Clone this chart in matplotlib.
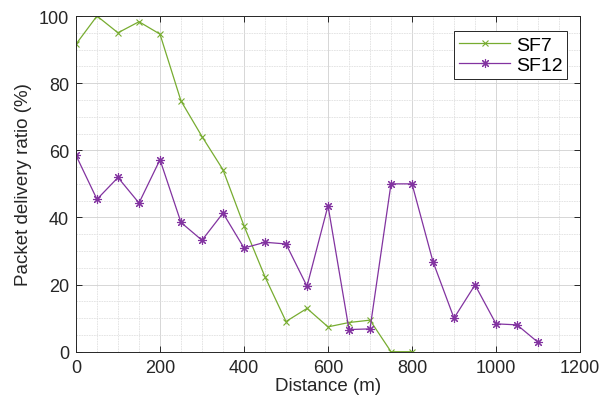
import matplotlib
matplotlib.use("Agg")
from matplotlib import pyplot as plt
from matplotlib.ticker import MultipleLocator

plt.rcParams['font.family'] = ['Liberation Sans', 'DejaVu Sans']

distance_sf7 = [0, 50, 100, 150, 200, 250, 300, 350, 400, 450, 500, 550,
                600, 650, 700, 750, 800]
pdr_sf7 = [91.6, 100, 95, 98.3, 94.6, 74.7, 64.1, 54.2, 37.5, 22.3, 9.0, 12.9,
           7.4, 8.7, 9.4, 0, 0]

distance_sf12 = [0, 50, 100, 150, 200, 250, 300, 350, 400, 450, 500, 550,
                 600, 650, 700, 750, 800, 850, 900, 950, 1000, 1050, 1100]
pdr_sf12 = [58.5, 45.4, 51.9, 44.3, 57.2, 38.5, 33.2, 41.3, 30.9, 32.6, 32.1, 19.5,
            43.5, 6.6, 6.8, 50, 50, 26.8, 10.0, 19.9, 8.3, 8.0, 2.8]

green = '#77AC30'
purple = '#8233A0'
axcol = '#262626'

fig = plt.figure(figsize=(6.04, 4.02), dpi=100)
ax = fig.add_axes([0.1258, 0.1226, 0.8345, 0.8351])

ax.plot(distance_sf7, pdr_sf7, color=green, linewidth=0.9, marker='x',
        markersize=4.5, markeredgewidth=0.8, label='SF7')
# '*' style asterisk: eight spokes
ax.plot(distance_sf12, pdr_sf12, color=purple, linewidth=0.9, marker=(8, 2, 0),
        markersize=6.5, markeredgewidth=0.8, label='SF12')

ax.set_xlim(0, 1200)
ax.set_ylim(0, 100)
ax.xaxis.set_major_locator(MultipleLocator(200))
ax.xaxis.set_minor_locator(MultipleLocator(50))
ax.yaxis.set_major_locator(MultipleLocator(20))
ax.yaxis.set_minor_locator(MultipleLocator(5))

ax.grid(which='major', color='#d6d6d6', linewidth=0.7)
ax.grid(which='minor', color='#e0e0e0', linewidth=0.6, linestyle=(0, (2, 1)))
ax.set_axisbelow(True)

for s in ax.spines.values():
    s.set_color(axcol)
    s.set_linewidth(0.7)
ax.tick_params(which='major', direction='in', length=4, width=0.7, colors=axcol,
               top=True, right=True, labelsize=13, pad=5)
ax.tick_params(which='minor', length=0)

ax.set_xlabel('Distance (m)', fontsize=13.5, color=axcol, labelpad=1)
ax.set_ylabel('Packet delivery ratio (%)', fontsize=13.5, color=axcol, labelpad=5)

leg = ax.legend(loc='upper right', bbox_to_anchor=(0.9745, 0.955), fontsize=14,
                fancybox=False, framealpha=1, edgecolor=axcol, handlelength=2.6,
                borderpad=0.25, labelspacing=0.15, handletextpad=0.3, borderaxespad=0)
leg.get_frame().set_linewidth(0.7)

fig.savefig('out.png', dpi=100)
